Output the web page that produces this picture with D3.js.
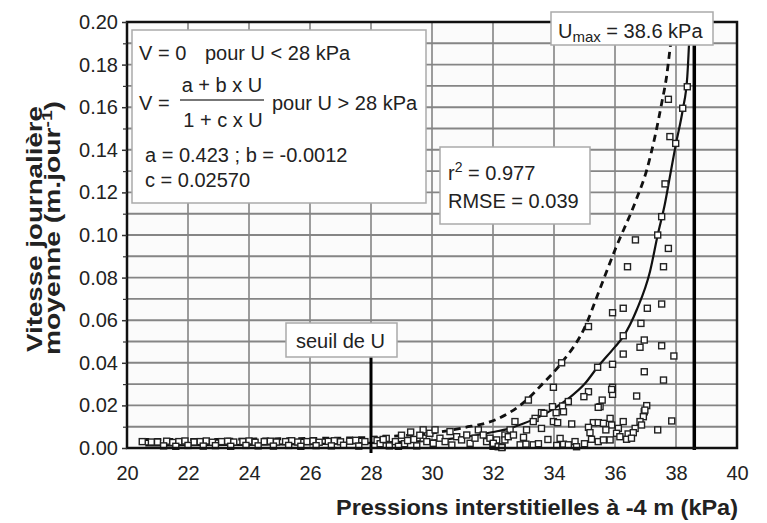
<!DOCTYPE html>
<html><head><meta charset="utf-8">
<script src="https://cdn.jsdelivr.net/npm/d3@7"></script>
<style>
html,body{margin:0;padding:0;background:#fff;}
text{font-family:"Liberation Sans",Arial,sans-serif;fill:#222;}
</style></head>
<body>
<svg id="c" width="767" height="523"></svg>
<script>
// ---------- data ----------
const xTicks = [20,22,24,26,28,30,32,34,36,38,40];
const yTicks = [0,0.02,0.04,0.06,0.08,0.10,0.12,0.14,0.16,0.18,0.20];
const yGrid = [0.01,0.02,0.03,0.04,0.05,0.06,0.07,0.08,0.09,0.10,0.11,0.12,0.13,0.14,0.15,0.16,0.17,0.18,0.19];

// fitted model curve (solid)
const fitU = [20.6,22,24,26,28,29,30,31,32,32.5,33,33.5,34,34.5,35,35.43,36,36.27,36.71,37.15,37.4,37.64,37.8,38.0,38.22,38.37,38.46];
const fitV = [0.0012,0.0013,0.0015,0.0018,0.0024,0.0029,0.0035,0.005,0.0075,0.009,0.0115,0.0145,0.0185,0.0235,0.030,0.038,0.0475,0.0523,0.0648,0.083,0.100,0.1149,0.1274,0.143,0.1587,0.1743,0.200];

// upper envelope curve (dashed)
const envU = [20.5,22,24,26,28,29,29.93,31.03,32.12,33.10,33.59,34.25,35.02,35.45,36.0,36.68,37.04,37.31,37.53,37.69,37.80,37.92];
const envV = [0.004,0.004,0.0042,0.0045,0.005,0.0058,0.0069,0.0095,0.0135,0.0225,0.0296,0.040,0.057,0.0726,0.093,0.116,0.1305,0.1462,0.1618,0.1743,0.1869,0.200];

// observations (U kPa, V m/jour)
const obsU = [
 38.37,37.75,38.22,37.80,37.99,37.64,37.53,37.40,36.67,37.75,36.41,37.59,
 37.53,36.27,35.92,37.06,36.85,35.13,36.27,36.96,36.82,37.53,36.27,37.93,
 34.25,35.92,35.43,36.96,37.59,33.98,35.92,
 35.92,35.13,34.98,36.71,35.58,35.51,37.04,36.96,36.93,36.82,37.86,37.40,
 34.47,34.28,33.95,34.07,33.16,33.59,33.38,33.98,34.12,34.58,32.72,33.59,34.31,33.67,33.32,35.89,35.45,36.98,36.87,
 35.84,35.29,35.45,35.62,35.89,36.27,35.13,36.11,36.66,35.18,36.05,36.43,36.60,35.23,35.45,35.62,35.84,36.16,36.38,36.54,34.69,34.74,35.70,35.00,
 32.89,33.08,33.32,33.49,34.09,34.31,34.47,32.56,32.39,31.90,33.10,32.12,32.00,32.30,33.80,34.20,33.00,
 29.71,29.93,30.10,29.71,29.83,30.04,30.26,30.43,30.59,30.65,30.81,30.97,31.14,31.25,31.41,31.52,31.68,31.79,31.90,32.01,32.17,32.29,32.39,32.50,32.67,
 28.1,28.2,28.3,28.5,28.6,28.8,29.0,29.1,29.3,29.4,29.5,29.6,28.9,29.2,28.4,
 20.5,20.8,21.0,21.3,21.5,21.7,21.9,22.2,22.4,22.6,22.8,23.1,23.3,23.5,23.8,24.0,24.2,24.5,24.7,24.9,25.2,25.4,25.6,25.9,26.1,26.3,26.6,26.8,27.0,27.3,27.5,27.8,
 21.2,21.6,22.0,22.5,22.9,23.4,23.9,24.3,24.8,25.3,25.7,26.2,26.7,27.1,27.6
];
const obsV = [
 0.1696,0.1637,0.1595,0.1462,0.143,0.124,0.1086,0.100,0.0977,0.0937,0.0851,0.0851,
 0.0676,0.0656,0.0635,0.0656,0.0585,0.0570,0.0527,0.0507,0.0473,0.048,0.0441,0.0432,
 0.040,0.0393,0.0379,0.0358,0.0319,0.0285,0.0285,
 0.0252,0.0264,0.0241,0.0244,0.0225,0.0194,0.0199,0.017,0.0147,0.0124,0.0127,0.0085,
 0.0218,0.0197,0.0194,0.0166,0.0225,0.0166,0.0139,0.0124,0.0119,0.0113,0.0124,0.0092,0.017,0.0163,0.0124,0.0275,0.0191,0.0178,0.0108,
 0.0139,0.0119,0.0119,0.0116,0.0108,0.0124,0.0097,0.0092,0.0092,0.0072,0.0069,0.0066,0.0072,0.0041,0.003,0.0038,0.0038,0.0053,0.0041,0.0046,0.003,0.0006,0.0085,0.002,
 0.0015,0.0018,0.0015,0.002,0.0012,0.0018,0.0015,0.0085,0.0061,0.0038,0.0085,0.0038,0.0008,0.0005,0.004,0.0045,0.005,
 0.0085,0.0069,0.0085,0.0046,0.003,0.0022,0.0046,0.003,0.0077,0.0014,0.0053,0.0038,0.0061,0.0022,0.0046,0.0085,0.0061,0.003,0.0046,0.0022,0.0006,0.0002,0.0038,0.0053,0.0061,
 0.004,0.0035,0.002,0.0045,0.001,0.003,0.006,0.002,0.0075,0.004,0.001,0.006,0.0008,0.0035,0.004,
 0.003,0.0028,0.0028,0.0032,0.0026,0.003,0.0033,0.0028,0.003,0.0033,0.0027,0.003,0.0032,0.0028,0.003,0.0033,0.0027,0.003,0.0032,0.0028,0.003,0.0034,0.0028,0.003,0.0033,0.0027,0.0031,0.0034,0.0029,0.0032,0.0036,0.003,
 0.001,0.0008,0.0012,0.0009,0.0011,0.0008,0.0012,0.001,0.0009,0.0012,0.0008,0.0011,0.001,0.0013,0.0009
];

const uMax = 38.6, uSeuil = 28;

// ---------- drawing ----------
const svg = d3.select("#c");
const x = d3.scaleLinear().domain([20,40]).range([127,737]);
const y = d3.scaleLinear().domain([0,0.2]).range([448,22]);

svg.append("rect").attr("x",x(20)).attr("y",y(0.2)).attr("width",x(40)-x(20)).attr("height",y(0)-y(0.2)).attr("fill","#fbfbfb");

// grid
svg.append("g").selectAll("line").data(yGrid).join("line")
  .attr("x1",x(20)).attr("x2",x(40)).attr("y1",d=>y(d)).attr("y2",d=>y(d))
  .attr("stroke","#858585").attr("stroke-width",1.9);
svg.append("g").selectAll("line").data(xTicks.slice(1,-1)).join("line")
  .attr("x1",d=>x(d)).attr("x2",d=>x(d)).attr("y1",y(0.2)).attr("y2",y(0))
  .attr("stroke","#858585").attr("stroke-width",1.6);

// curves
const lineGen = d3.line().x(d=>x(d[0])).y(d=>y(d[1])).curve(d3.curveMonotoneX);
svg.append("path").datum(envU.map((u,i)=>[u,envV[i]])).attr("d",lineGen)
  .attr("fill","none").attr("stroke","#111").attr("stroke-width",2.8).attr("stroke-dasharray","7,5");
svg.append("path").datum(fitU.map((u,i)=>[u,fitV[i]])).attr("d",lineGen)
  .attr("fill","none").attr("stroke","#111").attr("stroke-width",2.2);

// observations
const s = 6;
svg.append("g").selectAll("rect").data(obsU.map((u,i)=>[u,obsV[i]])).join("rect")
  .attr("x",d=>x(d[0])-s/2).attr("y",d=>y(d[1])-s/2).attr("width",s).attr("height",s)
  .attr("fill","#fff").attr("stroke","#222").attr("stroke-width",1.4);

// threshold lines
svg.append("line").attr("x1",x(uSeuil)).attr("x2",x(uSeuil)).attr("y1",357).attr("y2",453)
  .attr("stroke","#000").attr("stroke-width",3);
svg.append("line").attr("x1",x(uMax)).attr("x2",x(uMax)).attr("y1",y(0.2)).attr("y2",450)
  .attr("stroke","#000").attr("stroke-width",3.5);

// frame
svg.append("rect").attr("x",x(20)).attr("y",y(0.2)).attr("width",x(40)-x(20)).attr("height",y(0)-y(0.2))
  .attr("fill","none").attr("stroke","#111").attr("stroke-width",2.5);

// axes
const yAxis = svg.append("g").attr("transform",`translate(${x(20)},0)`)
  .call(d3.axisLeft(y).tickValues(yTicks).tickFormat(d3.format(".2f")).tickSize(5).tickPadding(4));
yAxis.select(".domain").remove();
yAxis.selectAll("text").attr("font-size",20).attr("font-family",null);
yAxis.selectAll("line").attr("stroke","#333").attr("stroke-width",1.5);
svg.append("g").attr("transform",`translate(${x(20)},0)`)
  .call(d3.axisLeft(y).tickValues(yGrid.filter((d,i)=>i%2===0)).tickFormat("").tickSize(4))
  .call(g=>g.select(".domain").remove()).selectAll("line").attr("stroke","#333").attr("stroke-width",1.2);

const xAxis = svg.append("g").attr("transform",`translate(0,${y(0)})`)
  .call(d3.axisBottom(x).tickValues(xTicks).tickFormat(d3.format("d")).tickSize(0).tickPadding(18));
xAxis.select(".domain").remove();
xAxis.selectAll("text").attr("font-size",20).attr("font-family",null);

// axis titles
svg.append("text").attr("x",336).attr("y",515).attr("font-size",22).attr("font-weight","bold")
  .attr("textLength",402).attr("lengthAdjust","spacingAndGlyphs")
  .text("Pressions interstitielles à -4 m (kPa)");
svg.append("text").attr("transform","translate(42,229) rotate(-90)").attr("text-anchor","middle")
  .attr("font-size",22).attr("font-weight","bold").attr("textLength",246).attr("lengthAdjust","spacingAndGlyphs")
  .text("Vitesse journalière");
const yt2 = svg.append("text").attr("transform","translate(60,228) rotate(-90)").attr("text-anchor","middle")
  .attr("font-size",22).attr("font-weight","bold").attr("textLength",254).attr("lengthAdjust","spacingAndGlyphs");
yt2.append("tspan").text("moyenne (m.jour");
yt2.append("tspan").attr("font-size",15).attr("dy",-8).text("-1");
yt2.append("tspan").attr("dy",8).text(")");

// boxes
function box(x0,y0,x1,y1){
  svg.append("rect").attr("x",x0).attr("y",y0).attr("width",x1-x0).attr("height",y1-y0)
    .attr("fill","#fff").attr("stroke","#aaa").attr("stroke-width",1.5);
}
// equation box
box(132,30,426,203);
const T = (tx,ty,str,anchor)=>svg.append("text").attr("x",tx).attr("y",ty).attr("font-size",20)
  .attr("text-anchor",anchor||"start").text(str);
T(139,60,"V = 0");
T(205,60,"pour U < 28 kPa");
T(139,110,"V =");
T(222,92,"a + b x U","middle");
svg.append("line").attr("x1",180).attr("x2",264).attr("y1",100).attr("y2",100).attr("stroke","#777").attr("stroke-width",2);
T(223,127,"1 + c x U","middle");
T(272,110,"pour U > 28 kPa");
T(145,162,"a = 0.423 ; b = -0.0012");
T(145,187,"c = 0.02570");

// r2 box
box(440,147,590,224);
const r2 = svg.append("text").attr("x",448).attr("y",180).attr("font-size",20);
r2.append("tspan").text("r");
r2.append("tspan").attr("font-size",14).attr("dy",-8).text("2");
r2.append("tspan").attr("dy",8).text(" = 0.977");
T(448,208,"RMSE = 0.039");

// Umax box
box(551,12,713,45);
const um = svg.append("text").attr("x",558).attr("y",38).attr("font-size",20);
um.append("tspan").text("U");
um.append("tspan").attr("font-size",15).attr("dy",4).text("max");
um.append("tspan").attr("dy",-4).text(" = 38.6 kPa");

// seuil box
box(286,323,397,357);
T(296,348,"seuil de U");
</script>
</body></html>
